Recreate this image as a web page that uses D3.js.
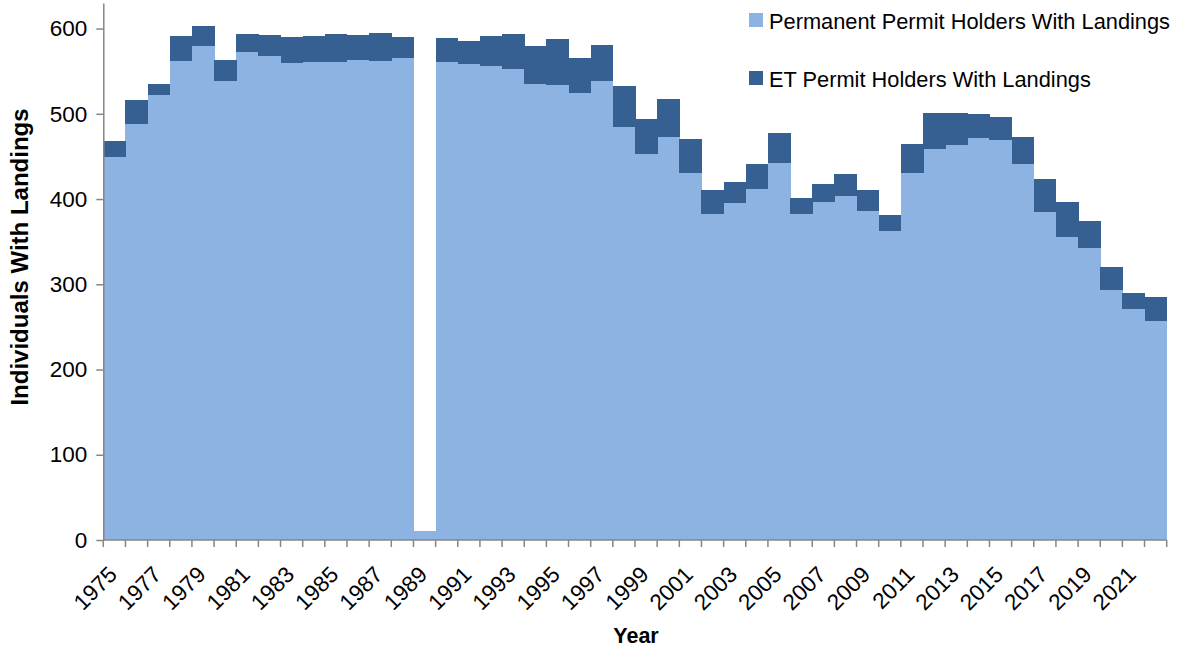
<!DOCTYPE html>
<html>
<head>
<meta charset="utf-8">
<script src="https://cdn.jsdelivr.net/npm/d3@7"></script>
<style>
  body { margin: 0; background: #fff; }
  text { font-family: "Liberation Sans", Arial, sans-serif; fill: #000; }
</style>
</head>
<body>
<svg width="1180" height="653"></svg>
<script>
// values
var years = [1975, 1976, 1977, 1978, 1979, 1980, 1981, 1982, 1983, 1984, 1985, 1986,
  1987, 1988, 1989, 1990, 1991, 1992, 1993, 1994, 1995, 1996, 1997, 1998, 1999, 2000,
  2001, 2002, 2003, 2004, 2005, 2006, 2007, 2008, 2009, 2010, 2011, 2012, 2013, 2014,
  2015, 2016, 2017, 2018, 2019, 2020, 2021, 2022];
var permanent = [449, 488, 522, 562, 580, 538, 572, 568, 560, 561, 561, 563,
  562, 565, 10, 561, 559, 556, 552, 535, 534, 524, 539, 484, 453, 473,
  431, 383, 395, 412, 442, 383, 397, 404, 386, 362, 430, 459, 463, 472,
  469, 441, 385, 355, 343, 293, 271, 257];
var etPermit = [19, 28, 13, 29, 23, 25, 22, 24, 30, 30, 33, 30,
  33, 25, 0, 28, 27, 35, 42, 44, 54, 41, 42, 49, 41, 44,
  40, 28, 25, 29, 35, 18, 21, 25, 25, 19, 34, 42, 38, 28,
  27, 32, 39, 41, 31, 27, 19, 28];
var seriesNames = ["Permanent Permit Holders With Landings", "ET Permit Holders With Landings"];
var colors = ["#8db3e2", "#366092"];
var yTicks = [0, 100, 200, 300, 400, 500, 600];

var rows = years.map(function (y, i) {
  return { year: y, perm: permanent[i], et: etPermit[i] };
});

var svg = d3.select("svg");
var plotLeft = 103.3, plotRight = 1166.7, plotBottom = 540, plotTop = 3;

var x = d3.scaleBand().domain(years).range([plotLeft, plotRight]).padding(0);
var y = d3.scaleLinear().domain([0, 630]).range([plotBottom, plotTop]);

var layers = d3.stack().keys(["perm", "et"])(rows);

svg.append("g").attr("shape-rendering", "crispEdges")
  .selectAll("g").data(layers).enter().append("g")
  .attr("fill", function (d, i) { return colors[i]; })
  .selectAll("rect").data(function (d) { return d; }).enter().append("rect")
  .attr("x", function (d) { return x(d.data.year); })
  .attr("width", x.bandwidth() + 0.5)
  .attr("y", function (d) { return y(d[1]); })
  .attr("height", function (d) { return Math.max(0, y(d[0]) - y(d[1])); });

var axisColor = "#868686";

// y axis
var yAxis = svg.append("g").attr("transform", "translate(" + plotLeft + ",0)")
  .call(d3.axisLeft(y).tickValues(yTicks).tickSize(7).tickPadding(9).tickSizeOuter(0));
yAxis.select(".domain").attr("stroke", axisColor).attr("stroke-width", 1.5);
yAxis.selectAll(".tick line").attr("stroke", axisColor).attr("stroke-width", 1.5);
yAxis.selectAll("text").style("font-size", "22.5px").attr("fill", "#000");

// x axis: ticks at band edges, labels every other year
var xg = svg.append("g").attr("transform", "translate(0," + plotBottom + ")");
xg.append("line").attr("x1", plotLeft).attr("x2", plotRight)
  .attr("stroke", axisColor).attr("stroke-width", 1.5);
xg.selectAll(".tk").data(years.concat(["end"])).enter().append("line")
  .attr("x1", function (d) { return d === "end" ? plotRight : x(d); })
  .attr("x2", function (d) { return d === "end" ? plotRight : x(d); })
  .attr("y1", 0).attr("y2", 7)
  .attr("stroke", axisColor).attr("stroke-width", 1.5);
xg.selectAll(".lbl").data(years.filter(function (d, i) { return i % 2 === 0; }))
  .enter().append("text")
  .attr("transform", function (d) {
    return "translate(" + (x(d) + x.bandwidth() / 2 + 4) + ",36) rotate(-45)";
  })
  .attr("text-anchor", "end")
  .style("font-size", "22.5px")
  .text(function (d) { return d; });

// axis titles
svg.append("text").attr("x", 636).attr("y", 643).attr("text-anchor", "middle")
  .style("font-size", "21.5px").style("font-weight", "bold").text("Year");
svg.append("text").attr("transform", "translate(28,257) rotate(-90)")
  .attr("text-anchor", "middle")
  .style("font-size", "24px").style("font-weight", "bold").text("Individuals With Landings");

// legend
var legend = svg.selectAll(".legend").data(seriesNames).enter().append("g")
  .attr("transform", function (d, i) { return "translate(749," + (13 + i * 58) + ")"; });
legend.append("rect").attr("width", 14).attr("height", 14)
  .attr("fill", function (d, i) { return colors[i]; });
legend.append("text").attr("x", 20).attr("y", 15.5)
  .style("font-size", "21.8px").text(function (d) { return d; });
</script>
</body>
</html>
